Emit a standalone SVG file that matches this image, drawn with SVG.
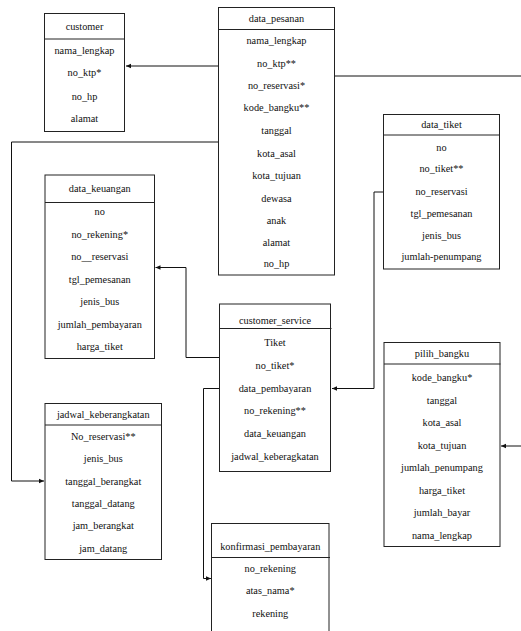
<svg xmlns="http://www.w3.org/2000/svg" width="521" height="631" viewBox="0 0 521 631">
<defs>
<style>
.box{fill:#fff;stroke:#222;stroke-width:1}
.hl{stroke:#222;stroke-width:1}
text{font-family:"Liberation Serif","Times New Roman",serif;font-size:10.3px;fill:#111;text-anchor:middle}
.con{fill:none;stroke:#111;stroke-width:1}
</style>
<marker id="ah" markerUnits="userSpaceOnUse" markerWidth="6" markerHeight="6" refX="5" refY="3" orient="auto">
<path d="M0,0.8 L5,3 L0,5.2 Z" fill="#111"/>
</marker>
</defs>
<rect width="521" height="631" fill="#fff"/>

<g id="connectors">
<path class="con" d="M218.5,66 H126" marker-end="url(#ah)"/>
<path class="con" d="M218.5,142 H11.5 V481 H44" marker-end="url(#ah)"/>
<path class="con" d="M334.5,76 H535 V446 H501" marker-end="url(#ah)"/>
<path class="con" d="M383.5,192 H374 V388.5 H332" marker-end="url(#ah)"/>
<path class="con" d="M219.5,357.5 H186 V267.5 H155.5" marker-end="url(#ah)"/>
<path class="con" d="M219.5,388.5 H203.5 V578.5 H211" marker-end="url(#ah)"/>
</g>

<g id="customer">
<rect class="box" x="44.5" y="13.5" width="80" height="118"/>
<line class="hl" x1="44.5" y1="39" x2="124.5" y2="39"/>
<text x="84.5" y="30">customer</text>
<text x="84.5" y="53.5">nama_lengkap</text>
<text x="84.5" y="75.5">no_ktp*</text>
<text x="84.5" y="100">no_hp</text>
<text x="84.5" y="121.5">alamat</text>
</g>

<g id="data_pesanan">
<rect class="box" x="218.5" y="7.5" width="116" height="267.5"/>
<line class="hl" x1="218.5" y1="29.5" x2="334.5" y2="29.5"/>
<text x="276.5" y="21.5">data_pesanan</text>
<text x="276.5" y="43.5">nama_lengkap</text>
<text x="276.5" y="66.5">no_ktp**</text>
<text x="276.5" y="88.5">no_reservasi*</text>
<text x="276.5" y="110.5">kode_bangku**</text>
<text x="276.5" y="133.5">tanggal</text>
<text x="276.5" y="156.5">kota_asal</text>
<text x="276.5" y="178.5">kota_tujuan</text>
<text x="276.5" y="201.5">dewasa</text>
<text x="276.5" y="223.5">anak</text>
<text x="276.5" y="245.5">alamat</text>
<text x="276.5" y="266.5">no_hp</text>
</g>

<g id="data_tiket">
<rect class="box" x="383.5" y="114.5" width="116" height="154.5"/>
<line class="hl" x1="383.5" y1="135" x2="499.5" y2="135"/>
<text x="441.5" y="128">data_tiket</text>
<text x="441.5" y="150.5">no</text>
<text x="441.5" y="171.5">no_tiket**</text>
<text x="441.5" y="195">no_reservasi</text>
<text x="441.5" y="216.5">tgl_pemesanan</text>
<text x="441.5" y="239">jenis_bus</text>
<text x="441.5" y="260">jumlah-penumpang</text>
</g>

<g id="data_keuangan">
<rect class="box" x="45" y="175" width="109.5" height="183.5"/>
<line class="hl" x1="45" y1="202.5" x2="154.5" y2="202.5"/>
<text x="99.75" y="191.5">data_keuangan</text>
<text x="99.75" y="215">no</text>
<text x="99.75" y="237.5">no_rekening*</text>
<text x="99.75" y="260">no__reservasi</text>
<text x="99.75" y="282.5">tgl_pemesanan</text>
<text x="99.75" y="305">jenis_bus</text>
<text x="99.75" y="327.5">jumlah_pembayaran</text>
<text x="99.75" y="350">harga_tiket</text>
</g>

<g id="customer_service">
<rect class="box" x="219.5" y="304" width="111" height="167.5"/>
<line class="hl" x1="219.5" y1="328.5" x2="331.5" y2="328.5"/>
<text x="275" y="323.5">customer_service</text>
<text x="275" y="346">Tiket</text>
<text x="275" y="368.5">no_tiket*</text>
<text x="275" y="391.5">data_pembayaran</text>
<text x="275" y="413.5">no_rekening**</text>
<text x="275" y="436.5">data_keuangan</text>
<text x="275" y="460">jadwal_keberagkatan</text>
</g>

<g id="pilih_bangku">
<rect class="box" x="384" y="342.5" width="116" height="204"/>
<line class="hl" x1="384" y1="364" x2="500.5" y2="364"/>
<text x="442" y="356.5">pilih_bangku</text>
<text x="442" y="380.5">kode_bangku*</text>
<text x="442" y="403.5">tanggal</text>
<text x="442" y="426">kota_asal</text>
<text x="442" y="449">kota_tujuan</text>
<text x="442" y="471">jumlah_penumpang</text>
<text x="442" y="493.5">harga_tiket</text>
<text x="442" y="516">jumlah_bayar</text>
<text x="442" y="538.5">nama_lengkap</text>
</g>

<g id="jadwal_keberangkatan">
<rect class="box" x="45" y="403.5" width="116.5" height="156"/>
<line class="hl" x1="45" y1="425" x2="161.5" y2="425"/>
<text x="103.25" y="417.5">jadwal_keberangkatan</text>
<text x="103.25" y="439.5">No_reservasi**</text>
<text x="103.25" y="461.5">jenis_bus</text>
<text x="103.25" y="484.5">tanggal_berangkat</text>
<text x="103.25" y="506.5">tanggal_datang</text>
<text x="103.25" y="529">jam_berangkat</text>
<text x="103.25" y="551.5">jam_datang</text>
</g>

<g id="konfirmasi_pembayaran">
<rect class="box" x="211.5" y="523.5" width="117.5" height="120"/>
<line class="hl" x1="211.5" y1="557.5" x2="330" y2="557.5"/>
<text x="270.25" y="549.5">konfirmasi_pembayaran</text>
<text x="270.25" y="571.5">no_rekening</text>
<text x="270.25" y="594">atas_nama*</text>
<text x="270.25" y="616.5">rekening</text>
</g>
</svg>
